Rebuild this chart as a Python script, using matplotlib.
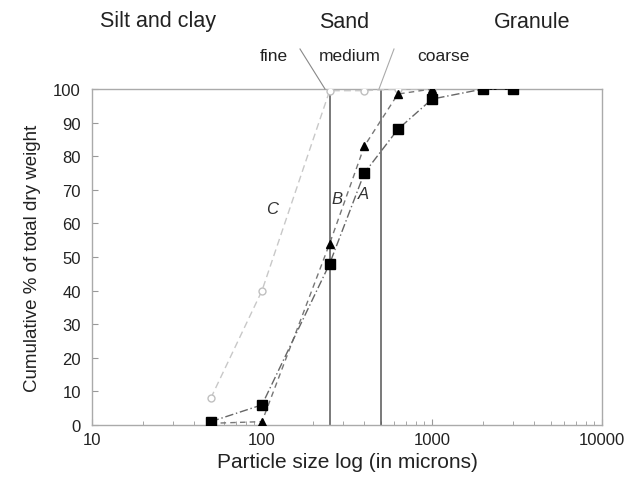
import matplotlib
matplotlib.use("Agg")
import matplotlib.pyplot as plt
from matplotlib.ticker import LogLocator, NullFormatter, FixedLocator

plt.rcParams['font.family'] = ['Liberation Sans', 'DejaVu Sans']

# Data (particle size in microns, cumulative %)
size_a = [50, 100, 250, 400, 630, 1000, 2000, 3000]
pct_a = [1, 6, 48, 75, 88, 97, 100, 100]
size_b = [50, 100, 250, 400, 630, 1000]
pct_b = [0.5, 1, 54, 83, 98.5, 100]
size_c = [50, 100, 250, 400, 630, 1000]
pct_c = [8, 40, 99.5, 99.5, 100, 100]
boundaries = [250, 500]
yticks = [0, 10, 20, 30, 40, 50, 60, 70, 80, 90, 100]
xticks = [10, 100, 1000, 10000]

W, H = 643, 481
fig = plt.figure(figsize=(W / 100, H / 100), dpi=100)
L, R, T, B = 92, 602, 90, 426
ax = fig.add_axes([L / W, 1 - B / H, (R - L) / W, (B - T) / H])
ax.set_xscale('log')
ax.set_xlim(10, 10000)
ax.set_ylim(0, 100)

for s in ax.spines.values():
    s.set_color('#aaaaaa')
    s.set_linewidth(1.0)

ax.xaxis.set_major_locator(FixedLocator(xticks))
ax.set_xticklabels([str(v) for v in xticks])
ax.xaxis.set_minor_locator(LogLocator(base=10, subs=range(2, 10)))
ax.xaxis.set_minor_formatter(NullFormatter())
ax.set_yticks(yticks)
ax.tick_params(axis='x', which='major', pad=5)
ax.tick_params(axis='y', which='major', pad=8)
ax.tick_params(axis='both', which='major', direction='in', length=4, color='#999999',
               labelsize=12, labelcolor='#222222')
ax.tick_params(axis='both', which='minor', direction='in', length=3, color='#999999')

for b in boundaries:
    ax.axvline(b, color='#555555', lw=1.1, zorder=2)

ax.plot(size_c, pct_c, ls=(0, (5, 3)), color='#c8c8c8', lw=1.0, marker='o', ms=5,
        mfc='white', mec='#c0c0c0', zorder=3)
ax.plot(size_b, pct_b, ls=(0, (4, 3)), color='#777777', lw=1.0, marker='^', ms=6,
        mfc='black', mec='black', zorder=4)
ax.plot(size_a, pct_a, ls=(0, (6, 2, 1, 2)), color='#666666', lw=1.0, marker='s', ms=6.5,
        mfc='black', mec='black', zorder=5)
ax.plot(size_a[-2:], pct_a[-2:], color='black', lw=1.3, zorder=4)

ax.text(115, 64.5, 'C', style='italic', fontsize=12, color='#333333', ha='center', va='center')
ax.text(278, 67.5, 'B', style='italic', fontsize=12, color='#333333', ha='center', va='center')
ax.text(395, 69, 'A', style='italic', fontsize=12, color='#333333', ha='center', va='center')

ax.set_xlabel('Particle size log (in microns)', fontsize=15, color='#222222', labelpad=4)
ax.set_ylabel('Cumulative % of total dry weight', fontsize=13.5, color='#222222', labelpad=9)

def ftext(x, y, s, size):
    fig.text(x / W, 1 - y / H, s, ha='center', va='center', fontsize=size, color='#222222')

ftext(158, 22, 'Silt and clay', 15.5)
ftext(344, 22, 'Sand', 15.5)
ftext(532, 22, 'Granule', 15.5)
ftext(274, 57, 'fine', 12.5)
ftext(350, 57, 'medium', 12.5)
ftext(443, 57, 'coarse', 12.5)

# divider lines between sand sub-classes
fig.add_artist(plt.Line2D([300 / W, 325 / W], [1 - 50 / H, 1 - 90 / H], color='#888888', lw=0.8))
fig.add_artist(plt.Line2D([394 / W, 379 / W], [1 - 50 / H, 1 - 90 / H], color='#aaaaaa', lw=0.8))

fig.savefig('out.png', dpi=100)
